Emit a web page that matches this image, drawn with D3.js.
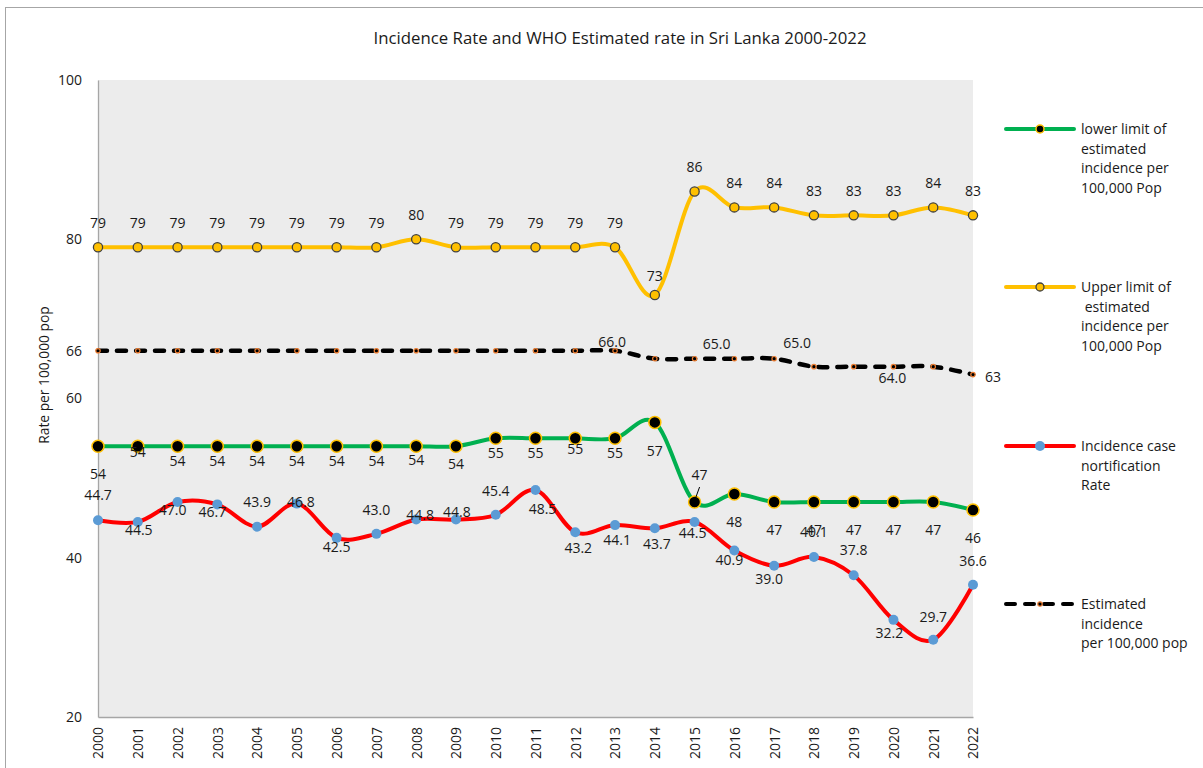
<!DOCTYPE html>
<html>
<head>
<meta charset="utf-8">
<script src="https://cdn.jsdelivr.net/npm/d3@7"></script>
<style>
body { margin: 0; background: #fff; }
text { font-family: "Open Sans", sans-serif; fill: #1a1a1a; }
</style>
</head>
<body>
<svg id="chart" width="1203" height="768"></svg>
<script>
"use strict";

// ---- data ----
var years = ["2000","2001","2002","2003","2004","2005","2006","2007","2008","2009","2010",
	"2011","2012","2013","2014","2015","2016","2017","2018","2019","2020","2021","2022"];
var lowerLimit = [54,54,54,54,54,54,54,54,54,54,55,55,55,55,57,47,48,47,47,47,47,47,46];
var upperLimit = [79,79,79,79,79,79,79,79,80,79,79,79,79,79,73,86,84,84,83,83,83,84,83];
var notifRate = [44.7,44.5,47.0,46.7,43.9,46.8,42.5,43.0,44.8,44.8,45.4,48.5,43.2,44.1,43.7,
	44.5,40.9,39.0,40.1,37.8,32.2,29.7,36.6];
var estimated = [66,66,66,66,66,66,66,66,66,66,66,66,66,66,65,65,65,65,64,64,64,64,63];
var yTicks = [20,40,60,66,80,100];
var estLabelYears = ["2013","2015","2017","2020","2022"];

var title = "Incidence Rate and WHO Estimated rate in Sri Lanka 2000-2022";
var yTitle = "Rate per 100,000 pop";
var legendNames = [
	["lower limit of","estimated","incidence per","100,000 Pop"],
	["Upper limit of"," estimated","incidence per","100,000 Pop"],
	["Incidence case","nortification","Rate"],
	["Estimated","incidence","per 100,000 pop"]
];

// ---- label placement (dx, dy from the point) ----
var lowerLabelPos = [[0,28],[0,6],[0,15],[0,15],[0,15],[0,15],[0,15],[0,15],[0,14],[0,18],[0,15],
	[0,15],[0,11],[0,15],[0,29],[5,-27],[0,28],[0,28],[0,28],[0,28],[0,28],[0,28],[0,28]];
var notifLabelPos = [[0,-25],[1,8],[-5,8],[-5,8],[0,-25],[4,-2],[0,9],[0,-24],[4,-4],[1,-7],[0,-24],
	[7,19],[3,16],[2,15],[2,16],[-2,11],[-5,10],[-5,13],[0,-25],[0,-25],[-4,13],[0,-23],[0,-24]];
var estLabelPos = [[-3,-9],[22,-15],[23,-16],[-1,11],[20,2]];

var svg = d3.select("#chart");
var plot = {left: 98, right: 973, top: 80, bottom: 717};
var labelSize = "14px";

// outer chart border
svg.append("rect")
	.attr("x", 5.5).attr("y", 7.5)
	.attr("width", 1210).attr("height", 780)
	.attr("fill", "none").attr("stroke", "#a6a6a6").attr("stroke-width", 1);

// plot background
svg.append("rect")
	.attr("x", plot.left).attr("y", plot.top)
	.attr("width", plot.right - plot.left).attr("height", plot.bottom - plot.top)
	.attr("fill", "#ececec");

var x = d3.scalePoint().domain(years).range([plot.left, plot.right]);
var y = d3.scaleLinear().domain([20, 100]).range([plot.bottom, plot.top]);

// title
svg.append("text")
	.attr("x", 620).attr("y", 44)
	.attr("text-anchor", "middle")
	.style("font-size", "16.8px")
	.text(title);

// axes
var yAxis = d3.axisLeft(y).tickValues(yTicks).tickSize(0).tickPadding(16).tickFormat(d3.format("d"));
var gy = svg.append("g").attr("transform", "translate(" + plot.left + ",0)").call(yAxis);
gy.select(".domain").attr("stroke", "#a6a6a6").attr("stroke-width", 1.3);
gy.selectAll("text").style("font-size", labelSize).style("font-family", "'Open Sans', sans-serif").attr("fill", "#1a1a1a");

var xAxis = d3.axisBottom(x).tickSize(0).tickPadding(10);
var gx = svg.append("g").attr("transform", "translate(0," + plot.bottom + ")").call(xAxis);
gx.select(".domain").attr("stroke", "#a6a6a6").attr("stroke-width", 1.3);
gx.selectAll("text")
	.style("font-size", labelSize).style("font-family", "'Open Sans', sans-serif").attr("fill", "#1a1a1a")
	.attr("text-anchor", "end")
	.attr("transform", "rotate(-90)")
	.attr("x", -10).attr("y", 0).attr("dy", "0.35em");

svg.append("text")
	.attr("transform", "translate(49,375) rotate(-90)")
	.attr("text-anchor", "middle")
	.style("font-size", "13.8px")
	.text(yTitle);

// series
var curve = d3.curveCardinal.tension(0);
function lineOf(vals) {
	return d3.line()
		.x(function(d, i){ return x(years[i]); })
		.y(function(d){ return y(d); })
		.curve(curve)(vals);
}

var series = [
	{vals: lowerLimit, color: "#00b050"},
	{vals: upperLimit, color: "#ffc000"},
	{vals: notifRate, color: "#ff0000"}
];
series.forEach(function(s){
	svg.append("path").attr("d", lineOf(s.vals))
		.attr("fill", "none").attr("stroke", s.color).attr("stroke-width", 4)
		.attr("stroke-linecap", "round");
});
svg.append("path").attr("d", lineOf(estimated))
	.attr("fill", "none").attr("stroke", "#000").attr("stroke-width", 4.5)
	.attr("stroke-linecap", "round").attr("stroke-dasharray", "9,10");

// markers
function lowerMarker(sel) {
	sel.attr("r", 6).attr("fill", "#000").attr("stroke", "#ffc000").attr("stroke-width", 1.5);
}
function upperMarker(sel) {
	sel.attr("r", 4.6).attr("fill", "#ffc000").attr("stroke", "#404040").attr("stroke-width", 1.3);
}
function notifMarker(sel) {
	sel.attr("r", 5).attr("fill", "#5b9bd5").attr("stroke", "none");
}
function estMarker(sel) {
	sel.attr("r", 2.2).attr("fill", "#000").attr("stroke", "#ed7d31").attr("stroke-width", 1.2);
}

function drawMarkers(vals, style) {
	svg.append("g").selectAll("circle").data(vals).enter().append("circle")
		.attr("cx", function(d, i){ return x(years[i]); })
		.attr("cy", function(d){ return y(d); })
		.call(style);
}
drawMarkers(lowerLimit, lowerMarker);
drawMarkers(upperLimit, upperMarker);
drawMarkers(notifRate, notifMarker);
drawMarkers(estimated, estMarker);

// data labels
function drawLabels(vals, fmt, pos) {
	svg.append("g").selectAll("text").data(vals).enter().append("text")
		.attr("x", function(d, i){ return x(years[i]) + pos(i)[0]; })
		.attr("y", function(d, i){ return y(d) + pos(i)[1]; })
		.attr("dy", "0.35em")
		.attr("text-anchor", "middle")
		.style("font-size", labelSize)
		.text(fmt);
}
drawLabels(upperLimit, d3.format("d"), function(i){ return years[i] == "2014" ? [0,-19] : [0,-24]; });
drawLabels(lowerLimit, d3.format("d"), function(i){ return lowerLabelPos[i]; });
drawLabels(notifRate, d3.format(".1f"), function(i){ return notifLabelPos[i]; });

// leader line for the 2015 lower-limit label
var li = years.indexOf("2015");
svg.append("line")
	.attr("x1", x(years[li]) + 1).attr("y1", y(lowerLimit[li]) - 4)
	.attr("x2", x(years[li]) + 5).attr("y2", y(lowerLimit[li]) - 15)
	.attr("stroke", "#000").attr("stroke-width", 1);

estLabelYears.forEach(function(yr, k){
	var i = years.indexOf(yr);
	var v = estimated[i];
	svg.append("text")
		.attr("x", x(yr) + estLabelPos[k][0])
		.attr("y", y(v) + estLabelPos[k][1])
		.attr("dy", "0.35em")
		.attr("text-anchor", "middle")
		.style("font-size", labelSize)
		.text(yr == "2022" ? d3.format("d")(v) : d3.format(".1f")(v));
});

// legend
var legendY = [129, 287, 446, 604];
var legendStyles = [
	{color: "#00b050", dash: null, marker: lowerMarker},
	{color: "#ffc000", dash: null, marker: upperMarker},
	{color: "#ff0000", dash: null, marker: notifMarker},
	{color: "#000", dash: "9,10", marker: estMarker}
];
legendStyles.forEach(function(s, k){
	var g = svg.append("g").attr("transform", "translate(0," + legendY[k] + ")");
	g.append("line").attr("x1", 1006).attr("x2", 1074).attr("y1", 0).attr("y2", 0)
		.attr("stroke", s.color).attr("stroke-width", 4).attr("stroke-linecap", "round")
		.attr("stroke-dasharray", s.dash);
	var m = g.append("circle").attr("cx", 1040).attr("cy", 0).call(s.marker);
	if (k == 0) m.attr("r", 4);
	if (k == 1) m.attr("r", 4);
	var t = g.append("text").attr("x", 1081).attr("y", 0).style("font-size", labelSize);
	legendNames[k].forEach(function(line, j){
		t.append("tspan").attr("x", 1081).attr("dy", j == 0 ? "0.35em" : "1.4em")
			.attr("xml:space", "preserve").text(line);
	});
});
</script>
</body>
</html>
